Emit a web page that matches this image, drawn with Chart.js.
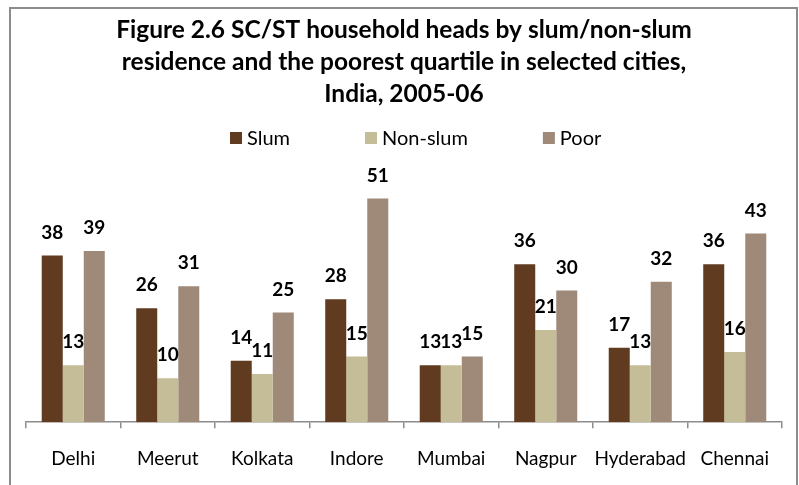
<!DOCTYPE html>
<html>
<head>
<meta charset="utf-8">
<script src="https://cdn.jsdelivr.net/npm/chart.js@4.4.1/dist/chart.umd.min.js"></script>
<style>
    html, body { margin: 0; padding: 0; background: #fff; }
    #wrap { position: relative; width: 799px; height: 485px; overflow: hidden; }
    #frame { position: absolute; left: 9px; top: 7px; width: 789px; height: 520px; border: 2px solid #8c8c8c; box-sizing: border-box; }
    canvas { position: absolute; left: 0; top: 0; }
</style>
</head>
<body>
<div id="wrap">
    <div id="frame"></div>
    <canvas id="chart" width="799" height="485"></canvas>
</div>
<script>
// Data
const cities = ['Delhi', 'Meerut', 'Kolkata', 'Indore', 'Mumbai', 'Nagpur', 'Hyderabad', 'Chennai'];
const slum = [38, 26, 14, 28, 13, 36, 17, 36];
const nonSlum = [13, 10, 11, 15, 13, 21, 13, 16];
const poor = [39, 31, 25, 51, 15, 30, 32, 43];

const seriesNames = ['Slum', 'Non-slum', 'Poor'];
const seriesColors = ['#603b1f', '#c4bd97', '#9f8a7a'];

const titleLines = [
    'Figure 2.6 SC/ST household heads by slum/non-slum',
    'residence and the poorest quartile in selected cities,',
    'India, 2005-06'
];

const FONT = 'Lato, "Open Sans", sans-serif';

// value labels above each bar
const valueLabels = {
    id: 'valueLabels',
    afterDatasetsDraw(chart) {
        const ctx = chart.ctx;
        ctx.save();
        ctx.font = 'bold 19px ' + FONT;
        ctx.fillStyle = '#000';
        ctx.textAlign = 'center';
        ctx.textBaseline = 'middle';
        chart.data.datasets.forEach((ds, i) => {
            chart.getDatasetMeta(i).data.forEach((bar, j) => {
                ctx.fillText(ds.data[j], bar.x, bar.y - 23);
            });
        });
        ctx.restore();
    }
};

// legend drawn by hand so the wide item spacing can be kept
const wideLegend = {
    id: 'wideLegend',
    afterDraw(chart) {
        const ctx = chart.ctx;
        ctx.save();
        ctx.font = '20px ' + FONT;
        ctx.textBaseline = 'middle';
        const box = 12, gap = 5, spacing = 75, y = 138;
        let x = 230;
        seriesNames.forEach((name, i) => {
            ctx.fillStyle = seriesColors[i];
            ctx.fillRect(x, y - box / 2, box, box);
            ctx.fillStyle = '#000';
            ctx.fillText(name, x + box + gap, y + 1);
            x += box + gap + ctx.measureText(name).width + spacing;
        });
        ctx.restore();
    }
};

new Chart(document.getElementById('chart'), {
    type: 'bar',
    data: {
        labels: cities,
        datasets: [slum, nonSlum, poor].map((d, i) => ({
            label: seriesNames[i],
            data: d,
            backgroundColor: seriesColors[i],
            borderWidth: 0,
            categoryPercentage: 0.667,
            barPercentage: 1
        }))
    },
    options: {
        responsive: false,
        animation: false,
        layout: { padding: { left: 26, right: 17, top: 0, bottom: -4 } },
        plugins: {
            legend: { display: false },
            tooltip: { enabled: false },
            title: {
                display: true,
                text: titleLines,
                color: '#000',
                font: { family: FONT, size: 24.5, weight: 'bold', lineHeight: 32 / 24.5 },
                padding: { top: 14, bottom: 49 }
            }
        },
        scales: {
            x: {
                grid: {
                    offset: true,
                    drawOnChartArea: false,
                    tickLength: 6,
                    color: '#8c8c8c',
                    lineWidth: 1.5
                },
                border: { color: '#8c8c8c', width: 1.5 },
                ticks: {
                    color: '#000',
                    padding: 19,
                    autoSkip: false,
                    maxRotation: 0,
                    minRotation: 0,
                    font: { family: FONT, size: 19 }
                }
            },
            y: {
                display: false,
                min: 0,
                max: 60
            }
        }
    },
    plugins: [valueLabels, wideLegend]
});
</script>
</body>
</html>
